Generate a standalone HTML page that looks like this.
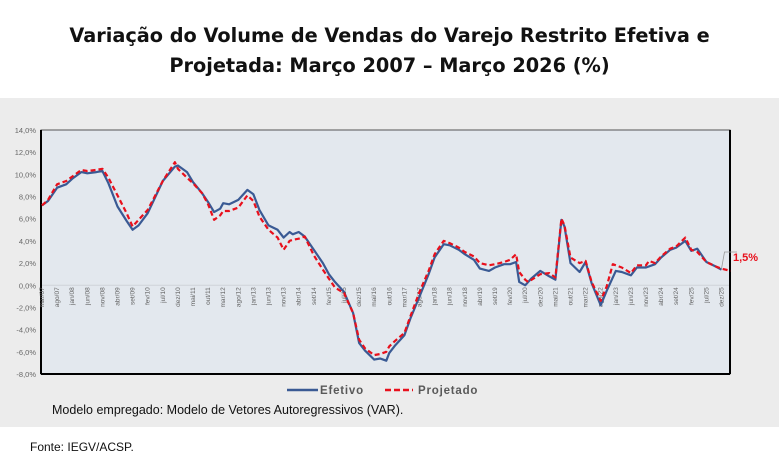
<!DOCTYPE html>
<html><head><meta charset="utf-8"><style>
body{margin:0;width:779px;height:476px;background:#fff;font-family:"Liberation Sans",sans-serif;position:relative;overflow:hidden}
#title{position:absolute;left:0;top:21px;width:779px;text-align:center;font-weight:bold;font-size:19.3px;line-height:30px;color:#111;font-family:"DejaVu Sans",sans-serif}
#panel{position:absolute;left:0;top:98px;width:779px;height:329px;background:#ececec}
#note{position:absolute;left:52px;top:403px;font-size:12.5px;color:#111}
#src{position:absolute;left:30px;top:440px;font-size:12px;color:#111}
svg{position:absolute;left:0;top:0}
</style></head><body>
<div id="title">Variação do Volume de Vendas do Varejo Restrito Efetiva e<br>Projetada: Março 2007 – Março 2026 (%)</div>
<div id="panel"></div>
<svg id="chart" width="779" height="476"></svg>
<div id="note">Modelo empregado: Modelo de Vetores Autoregressivos (VAR).</div>
<div id="src">Fonte: IEGV/ACSP.</div>
<script>
const tickLabels=["mar/07","ago/07","jan/08","jun/08","nov/08","abr/09","set/09","fev/10","jul/10","dez/10","mai/11","out/11","mar/12","ago/12","jan/13","jun/13","nov/13","abr/14","set/14","fev/15","jul/15","dez/15","mai/16","out/16","mar/17","ago/17","jan/18","jun/18","nov/18","abr/19","set/19","fev/20","jul/20","dez/20","mai/21","out/21","mar/22","ago/22","jan/23","jun/23","nov/23","abr/24","set/24","fev/25","jul/25","dez/25"];
const yTicks=[14,12,10,8,6,4,2,0,-2,-4,-6,-8];
const efMonths=[0,2,5,8,10,13,15,18,20,22,25,28,30,32,35,40,44,45,48,50,53,55,57,59,60,62,65,68,70,72,75,78,80,82,83,85,87,90,93,95,97,100,103,105,107,110,112,114,115,117,120,122,125,128,130,133,135,138,140,143,145,148,150,153,155,157,158,160,162,165,168,170,172,173,175,178,180,182,185,187,190,192,195,197,200,203,205,208,210,213,215,217,220,223,225];
const efVals=[7.2,7.6,8.8,9.1,9.6,10.2,10.1,10.2,10.3,9.2,7.1,5.8,5.0,5.4,6.5,9.4,10.7,10.8,10.2,9.3,8.3,7.5,6.6,6.9,7.4,7.3,7.7,8.6,8.2,6.8,5.4,5.0,4.3,4.8,4.6,4.8,4.4,3.2,2.0,1.0,0.3,-0.6,-2.5,-5.2,-5.9,-6.7,-6.6,-6.8,-6.1,-5.4,-4.5,-3.0,-1.0,1.0,2.5,3.7,3.6,3.2,2.8,2.3,1.5,1.3,1.6,1.9,1.9,2.1,0.3,0.0,0.6,1.3,0.8,0.5,5.9,5.3,2.0,1.2,2.1,0.2,-1.8,-0.5,1.3,1.2,0.9,1.6,1.6,1.9,2.5,3.2,3.4,4.0,3.1,3.3,2.1,1.7,1.4];
const prMonths=[0,2,5,8,10,13,15,18,20,22,25,28,30,32,35,40,44,45,48,50,53,55,57,59,60,62,65,68,70,72,75,78,80,82,83,85,87,90,93,95,97,100,103,105,107,110,112,114,115,117,120,122,125,128,130,133,135,138,140,143,145,148,150,153,155,157,158,160,161,165,168,170,172,173,175,178,180,182,185,187,189,192,195,197,200,201,203,205,208,210,213,215,217,220,223,225,228];
const prVals=[7.2,7.7,9.1,9.4,9.8,10.4,10.3,10.4,10.5,9.7,8.1,6.5,5.3,5.9,6.8,9.4,11.1,10.5,9.7,9.2,8.3,7.3,5.9,6.3,6.7,6.7,7.0,8.1,7.6,6.2,5.0,4.3,3.2,4.0,4.1,4.2,4.4,2.7,1.4,0.6,-0.2,-0.7,-2.5,-4.9,-5.7,-6.3,-6.2,-6.0,-5.5,-5.0,-4.3,-2.8,-0.6,1.3,2.8,4.0,3.8,3.4,3.0,2.6,2.0,1.8,1.9,2.1,2.3,2.8,1.2,0.5,0.3,1.0,1.1,0.7,6.0,5.4,2.5,2.0,2.2,0.3,-1.4,-0.1,1.9,1.6,1.1,1.8,1.8,2.2,2.0,2.6,3.3,3.5,4.3,3.2,3.0,2.1,1.7,1.5,1.3];
const NS="http://www.w3.org/2000/svg";
const svg=document.getElementById('chart');
const X0=42,PX=3.02,YT=130,YB=374;
const xs=m=>X0+m*PX;
const ys=v=>YT+(14-v)*(YB-YT)/22;
function mk(t,a){const e=document.createElementNS(NS,t);for(const k in a)e.setAttribute(k,a[k]);svg.appendChild(e);return e;}
const bg=mk('rect',{x:41,y:YT,width:689,height:YB-YT,fill:'#e3e8ee',stroke:'#555','stroke-width':1});


const zl=mk('line',{x1:41,x2:730,y1:ys(0),y2:ys(0),stroke:'#cfd3d8','stroke-width':1});


const ax=mk('line',{x1:41,x2:41,y1:YT,y2:YB,stroke:'#000','stroke-width':2});


const bx=mk('line',{x1:41,x2:730,y1:YB,y2:YB,stroke:'#000','stroke-width':2});


const rx=mk('line',{x1:730,x2:730,y1:YT,y2:YB,stroke:'#000','stroke-width':2});


yTicks.forEach(v=>{
  const t=mk('text',{x:36,y:ys(v)+3,'text-anchor':'end','font-size':7.5,fill:'#666'});
  t.textContent=v.toFixed(1).replace('.',',')+'%';
  
  
});
tickLabels.forEach((l,i)=>{
  const x=xs(i*5)+2,y=ys(0)+2;
  const t=mk('text',{x:x,y:y,'text-anchor':'end','font-size':6.5,fill:'#666',transform:`rotate(-90 ${x} ${y})`});
  t.textContent=l;
  
  
});
function path(ms,vs){return ms.map((m,i)=>(i?'L':'M')+xs(m).toFixed(1)+' '+ys(vs[i]).toFixed(1)).join(' ');}
const pe=mk('path',{d:path(efMonths,efVals),fill:'none',stroke:'#3a5a94','stroke-width':2.2,'stroke-linejoin':'round'});


const pp=mk('path',{d:path(prMonths,prVals),fill:'none',stroke:'#e8101c','stroke-width':2.2,'stroke-dasharray':'5,3','stroke-linejoin':'round'});


const lm=prMonths[prMonths.length-2];
const ld=mk('path',{d:`M${xs(lm).toFixed(1)} ${ys(1.5)} L${xs(lm)+3} ${ys(3)} L737 ${ys(3)}`,fill:'none',stroke:'#999','stroke-width':0.8});


const an=mk('text',{x:733,y:ys(2.3)+1,'font-size':11,'font-weight':'bold',fill:'#e8101c'});
an.textContent='1,5%';


const l1=mk('line',{x1:287,x2:318,y1:390,y2:390,stroke:'#3a5a94','stroke-width':2.5});


const t1=mk('text',{x:320,y:394,'font-size':11.5,'font-weight':'bold',fill:'#595959','letter-spacing':'0.8'});
t1.textContent='Efetivo';


const l2=mk('line',{x1:385,x2:413,y1:390,y2:390,stroke:'#e8101c','stroke-width':2.5,'stroke-dasharray':'6,3'});


const t2=mk('text',{x:418,y:394,'font-size':11.5,'font-weight':'bold',fill:'#595959','letter-spacing':'0.8'});
t2.textContent='Projetado';


</script>
</body></html>
